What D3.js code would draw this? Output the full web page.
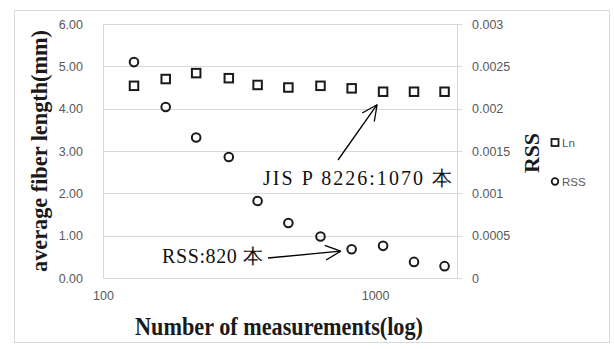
<!DOCTYPE html>
<html><head><meta charset="utf-8">
<script src="https://cdn.jsdelivr.net/npm/d3@7"></script>
<style>body{margin:0;background:#fff}svg{display:block}</style>
</head><body>
<script>
const counts = [130, 170, 220, 290, 370, 480, 630, 820, 1070, 1390, 1800];
const lnValues = [4.54, 4.70, 4.84, 4.72, 4.56, 4.50, 4.54, 4.48, 4.40, 4.40, 4.40];
const rssValues = [0.00255, 0.00202, 0.00166, 0.00143, 0.00091, 0.00065, 0.00049, 0.00034, 0.00038, 0.00019, 0.00014];
const leftTicks = [0, 1, 2, 3, 4, 5, 6];
const rightTicks = [0, 0.0005, 0.001, 0.0015, 0.002, 0.0025, 0.003];
const rightTickLabels = ["0", "0.0005", "0.001", "0.0015", "0.002", "0.0025", "0.003"];
const xTicks = [100, 1000];
const legendItems = ["Ln", "RSS"];

const W = 614, H = 349;
const svg = d3.select("body").append("svg").attr("width", W).attr("height", H);
const P = {l: 103, r: 457, t: 24, b: 278};
const x = d3.scaleLog().domain([100, 2000]).range([P.l, P.r]);
const yL = d3.scaleLinear().domain([0, 6]).range([P.b, P.t]);
const yR = d3.scaleLinear().domain([0, 0.003]).range([P.b, P.t]);
const grid = "#d9d9d9", lab = "#595959";
const sans = "'Liberation Sans', Arial, sans-serif";
const serif = "'Liberation Serif', 'Times New Roman', serif";

// chart border
svg.append("rect").attr("x", 14.5).attr("y", 10.5).attr("width", 595).attr("height", 332)
  .attr("fill", "#fff").attr("stroke", grid);

// gridlines (extend to right tick)
svg.append("g").selectAll("line").data(leftTicks).join("line")
  .attr("x1", P.l).attr("x2", P.r + 5)
  .attr("y1", d => Math.round(yL(d)) + 0.5).attr("y2", d => Math.round(yL(d)) + 0.5)
  .attr("stroke", grid);
// vertical axis lines
[P.l, P.r].forEach(v => svg.append("line").attr("x1", v + 0.5).attr("x2", v + 0.5)
  .attr("y1", P.t).attr("y2", P.b).attr("stroke", grid));

// left axis
const gl = svg.append("g").attr("transform", `translate(${P.l - 20},0)`)
  .call(d3.axisLeft(yL).tickValues(leftTicks).tickFormat(d3.format(".2f")).tickSize(0).tickPadding(0));
gl.select(".domain").remove();
gl.selectAll("text").attr("font-family", sans).attr("font-size", 12.5).attr("fill", lab);

// right axis
const gr = svg.append("g").attr("transform", `translate(${P.r + 15},0)`)
  .call(d3.axisRight(yR).tickValues(rightTicks).tickFormat((d, i) => rightTickLabels[i]).tickSize(0).tickPadding(0));
gr.select(".domain").remove();
gr.selectAll("text").attr("font-family", sans).attr("font-size", 12.5).attr("fill", lab);

// x axis
const gx = svg.append("g").attr("transform", `translate(0,${P.b + 13})`)
  .call(d3.axisBottom(x).tickValues(xTicks).tickFormat(d3.format("d")).tickSize(0).tickPadding(0));
gx.select(".domain").remove();
gx.selectAll("text").attr("font-family", sans).attr("font-size", 12.5).attr("fill", lab);

// titles
svg.append("text").attr("transform", "translate(47,151) rotate(-90)").attr("text-anchor", "middle")
  .attr("font-family", serif).attr("font-weight", "bold").attr("font-size", 24).attr("fill", "#1a1a1a")
  .attr("textLength", 242).attr("lengthAdjust", "spacingAndGlyphs").text("average fiber length(mm)");
svg.append("text").attr("x", 279).attr("y", 335).attr("text-anchor", "middle")
  .attr("font-family", serif).attr("font-weight", "bold").attr("font-size", 25).attr("fill", "#1a1a1a")
  .attr("textLength", 288).attr("lengthAdjust", "spacingAndGlyphs").text("Number of measurements(log)");
svg.append("text").attr("transform", "translate(539,153) rotate(-90)").attr("text-anchor", "middle")
  .attr("font-family", serif).attr("font-weight", "bold").attr("font-size", 21).attr("fill", "#1a1a1a")
  .attr("textLength", 40).attr("lengthAdjust", "spacingAndGlyphs").text("RSS");

// series
const ink = "#1a1a1a";
const sq = 8.5;
svg.append("g").selectAll("rect").data(counts).join("rect")
  .attr("x", d => x(d) - sq / 2).attr("y", (d, i) => yL(lnValues[i]) - sq / 2)
  .attr("width", sq).attr("height", sq).attr("fill", "none").attr("stroke", ink).attr("stroke-width", 2);
svg.append("g").selectAll("circle").data(counts).join("circle")
  .attr("cx", d => x(d)).attr("cy", (d, i) => yR(rssValues[i])).attr("r", 4.3)
  .attr("fill", "none").attr("stroke", ink).attr("stroke-width", 2);

// legend
const lg = svg.append("g").attr("font-family", sans).attr("font-size", 11.5).attr("fill", lab);
lg.append("rect").attr("x", 551.5).attr("y", 139).attr("width", 7).attr("height", 7)
  .attr("fill", "none").attr("stroke", ink).attr("stroke-width", 1.8);
lg.append("text").attr("x", 562).attr("y", 146.5).text(legendItems[0]);
lg.append("circle").attr("cx", 555).attr("cy", 181.5).attr("r", 3.3)
  .attr("fill", "none").attr("stroke", ink).attr("stroke-width", 1.8);
lg.append("text").attr("x", 562).attr("y", 185.5).text(legendItems[1]);

// annotations
const annRSS = {n: 820, label: "RSS:820 本"};
const annJIS = {n: 1070, label: "JIS P 8226:1070 本"};
function arrow(x1, y1, x2, y2) {
  const a = Math.atan2(y2 - y1, x2 - x1), L = 17, s = 0.45;
  svg.append("line").attr("x1", x1).attr("y1", y1).attr("x2", x2).attr("y2", y2)
    .attr("stroke", "#000").attr("stroke-width", 1.3);
  [-s, s].forEach(o => svg.append("line").attr("x1", x2).attr("y1", y2)
    .attr("x2", x2 - L * Math.cos(a + o)).attr("y2", y2 - L * Math.sin(a + o))
    .attr("stroke", "#000").attr("stroke-width", 1.3));
}
const iR = counts.indexOf(annRSS.n), iJ = counts.indexOf(annJIS.n);
arrow(268, 258, x(annRSS.n) - 11, yR(rssValues[iR]) + 2);
arrow(338, 160, x(annJIS.n) - 6, yL(lnValues[iJ]) + 13);

svg.append("text").attr("x", 162).attr("y", 263).attr("font-family", serif).attr("font-size", 20)
  .attr("fill", "#111").attr("textLength", 101).attr("lengthAdjust", "spacing").text(annRSS.label);
svg.append("text").attr("x", 263).attr("y", 185).attr("font-family", serif).attr("font-size", 20)
  .attr("fill", "#111").attr("textLength", 189).attr("lengthAdjust", "spacing").text(annJIS.label);
</script>
</body></html>
